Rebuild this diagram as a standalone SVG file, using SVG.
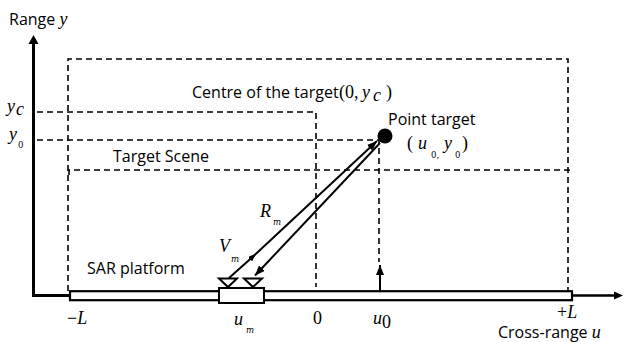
<svg xmlns="http://www.w3.org/2000/svg" width="625" height="342" viewBox="0 0 625 342">
<style>
  .d { fill:none; stroke:#000; stroke-width:1.6; stroke-dasharray:6 4; }
  .s { fill:none; stroke:#000; stroke-width:2; }
  .t { font-family:"Open Sans","Noto Sans",sans-serif; font-size:16px; fill:#000; }
  .m { font-family:"Liberation Serif","DejaVu Serif",serif; font-style:italic; font-size:18px; fill:#000; }
  .n { font-family:"Liberation Serif","DejaVu Serif",serif; font-style:normal; font-size:18px; fill:#000; }
  .ss { font-family:"DejaVu Serif","Liberation Serif",serif; font-size:8.5px; fill:#000; }
</style>
<defs>
  <marker id="ah" markerUnits="userSpaceOnUse" markerWidth="10" markerHeight="8" refX="10" refY="4" orient="auto">
    <path d="M0,0 L10,4 L0,8 z" fill="#000"/>
  </marker>
  <marker id="ahs" markerUnits="userSpaceOnUse" markerWidth="8" markerHeight="6" refX="8" refY="3" orient="auto">
    <path d="M0,0 L8,3 L0,6 z" fill="#000"/>
  </marker>
</defs>

<g id="axes">
  <line x1="33.5" y1="43" x2="33.5" y2="297" stroke="#000" stroke-width="3"/>
  <polygon points="33.5,35 28.5,44 38.5,44" fill="#000"/>
  <line x1="32" y1="295.5" x2="70" y2="295.5" stroke="#000" stroke-width="3"/>
  <line x1="572" y1="295.5" x2="615" y2="295.5" stroke="#000" stroke-width="2.5"/>
  <polygon points="623,295.5 614,291.5 614,299.5" fill="#000"/>
  <text class="t" x="9" y="25">Range <tspan class="m">y</tspan></text>
  <text class="t" x="498" y="338" font-size="15.5">Cross-range <tspan class="m">u</tspan></text>
</g>

<g id="scene">
  <path class="d" d="M68,291 V59 H568 V291"/>
  <path class="d" d="M69,175 V170 H569 V175"/>
  <text class="t" x="113" y="162">Target Scene</text>
</g>

<g id="centre">
  <path class="d" d="M37,112 H316 V287"/>
  <text class="t" x="192" y="98">Centre of the target</text>
  <text class="n" x="339" y="98">(0,</text>
  <text class="m" x="362" y="98">y</text>
  <text class="m" x="373" y="101" font-size="12">c</text>
  <text class="n" x="386" y="98">)</text>
  <text class="m" x="7" y="112">y</text>
  <text class="m" x="16" y="115" font-size="12">c</text>
</g>

<g id="track">
  <rect x="70" y="291.2" width="502" height="9" fill="#fff" stroke="#000" stroke-width="2.2"/>
  <text class="t" x="87" y="274">SAR platform</text>
  <text class="n" x="67" y="324">−<tspan class="m">L</tspan></text>
  <text class="n" x="313" y="324">0</text>
  <text class="n" x="557" y="318">+<tspan class="m">L</tspan></text>
</g>

<g id="target">
  <circle cx="385" cy="136" r="7.5" fill="#000"/>
  <path class="d" d="M37,140 H379 V262"/>
  <text class="t" x="388" y="125">Point target</text>
  <text class="n" x="407" y="149">(</text>
  <text class="m" x="418" y="149">u</text>
  <text class="ss" x="431" y="158">0,</text>
  <text class="m" x="444" y="149">y</text>
  <text class="ss" x="455" y="158">0</text>
  <text class="n" x="462" y="149">)</text>
  <text class="m" x="9" y="140">y</text>
  <text class="ss" x="18" y="148">0</text>
  <text class="m" x="373" y="324">u</text>
  <text class="n" x="382" y="328" font-size="12">0</text>
</g>

<g id="platform">
  <rect x="219" y="288" width="45" height="15" fill="#fff" stroke="#000" stroke-width="2"/>
  <polygon points="219,278.5 237,278.5 228,287" fill="#fff" stroke="#000" stroke-width="2"/>
  <polygon points="244,278.5 262,278.5 253,287" fill="#fff" stroke="#000" stroke-width="2"/>
  <text class="m" x="234" y="325">u</text>
  <text class="ss" x="246" y="333" font-style="italic">m</text>
</g>

<g id="connectors">
  <path class="s" d="M229,278 L256,253.8 L377,141" marker-mid="url(#ahs)" marker-end="url(#ah)"/>
  <path class="s" d="M380,143 L255,275.5" marker-end="url(#ah)"/>
  <line x1="380" y1="291" x2="380" y2="265" stroke="#000" stroke-width="2" marker-end="url(#ah)"/>
  <text class="m" x="260" y="217">R</text>
  <text class="ss" x="273" y="225" font-style="italic">m</text>
  <text class="m" x="219" y="252">V</text>
  <text class="ss" x="231" y="262" font-style="italic">m</text>
</g>
</svg>
